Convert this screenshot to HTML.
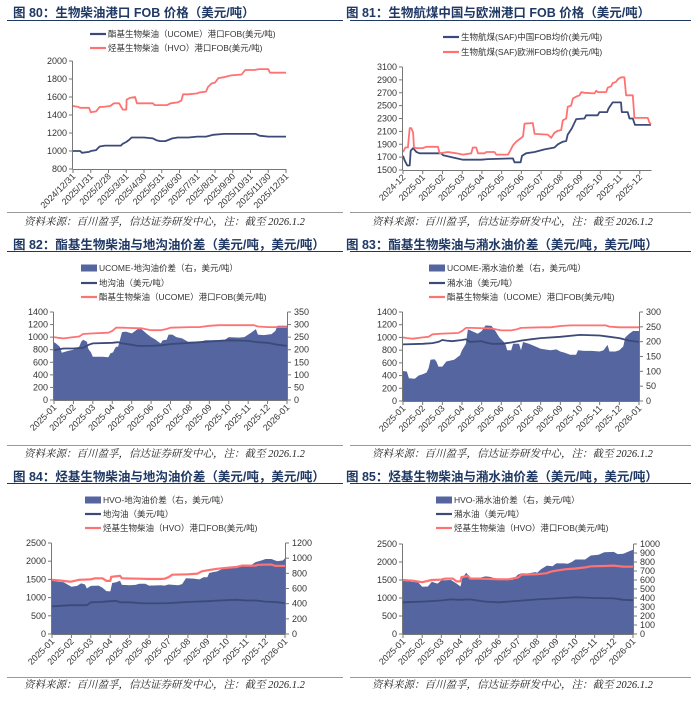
<!DOCTYPE html>
<html><head><meta charset="utf-8"><style>
html,body{margin:0;padding:0;background:#fff;}
svg{display:block;font-family:"Liberation Sans","Noto Sans CJK SC",sans-serif;}
.t{font-size:12.5px;font-weight:bold;fill:#1f3864;font-family:"Liberation Sans","Noto Sans CJK SC",sans-serif;}
.src{font-size:10.5px;font-style:italic;fill:#222;font-family:"Liberation Serif","Noto Serif CJK SC",serif;}
.tk{font-size:9px;fill:#333;}
.lg{font-size:8.5px;fill:#333;}
</style></head><body>
<svg id="pg" width="697" height="706" viewBox="0 0 697 706" xmlns="http://www.w3.org/2000/svg">
<g>
<text class="t" x="13" y="17">图 80：生物柴油港口 FOB 价格（美元/吨）</text>
<text class="t" x="346" y="17">图 81：生物航煤中国与欧洲港口 FOB 价格（美元/吨）</text>
<text class="t" x="13" y="249">图 82：酯基生物柴油与地沟油价差（美元/吨，美元/吨）</text>
<text class="t" x="346" y="249">图 83：酯基生物柴油与潲水油价差（美元/吨，美元/吨）</text>
<text class="t" x="13" y="481">图 84：烃基生物柴油与地沟油价差（美元/吨，美元/吨）</text>
<text class="t" x="346" y="481">图 85：烃基生物柴油与潲水油价差（美元/吨，美元/吨）</text>
</g>
<g stroke="#1f3864" stroke-width="1">
<line x1="7" y1="20.5" x2="343" y2="20.5"/><line x1="350" y1="20.5" x2="691" y2="20.5"/>
<line x1="7" y1="251.5" x2="343" y2="251.5"/><line x1="350" y1="251.5" x2="691" y2="251.5"/>
<line x1="7" y1="483.5" x2="343" y2="483.5"/><line x1="350" y1="483.5" x2="691" y2="483.5"/>
</g>
<g stroke="#999" stroke-width="1">
<line x1="7" y1="212.5" x2="343" y2="212.5"/><line x1="350" y1="212.5" x2="691" y2="212.5"/>
<line x1="7" y1="445.5" x2="343" y2="445.5"/><line x1="350" y1="445.5" x2="691" y2="445.5"/>
<line x1="7" y1="677.5" x2="343" y2="677.5"/><line x1="350" y1="677.5" x2="691" y2="677.5"/>
</g>
<g>
<text class="src" x="24" y="225">资料来源：百川盈孚，信达证券研发中心，注：截至 2026.1.2</text>
<text class="src" x="372" y="225">资料来源：百川盈孚，信达证券研发中心，注：截至 2026.1.2</text>
<text class="src" x="24" y="457">资料来源：百川盈孚，信达证券研发中心，注：截至 2026.1.2</text>
<text class="src" x="372" y="457">资料来源：百川盈孚，信达证券研发中心，注：截至 2026.1.2</text>
<text class="src" x="24" y="688">资料来源：百川盈孚，信达证券研发中心，注：截至 2026.1.2</text>
<text class="src" x="372" y="688">资料来源：百川盈孚，信达证券研发中心，注：截至 2026.1.2</text>
</g>
</svg>
<script>
// ---------- data ----------
const slashDates = ["2024/12/31","2025/1/31","2025/2/28","2025/3/31","2025/4/30","2025/5/31","2025/6/30","2025/7/31","2025/8/31","2025/9/30","2025/10/31","2025/11/30","2025/12/31"];
const months81 = ["2024-12","2025-01","2025-02","2025-03","2025-04","2025-05","2025-06","2025-07","2025-08","2025-09","2025-10","2025-11","2025-12"];
const months25 = ["2025-01","2025-02","2025-03","2025-04","2025-05","2025-06","2025-07","2025-08","2025-09","2025-10","2025-11","2025-12","2026-01"];

// fig 80
const f80UcomeX = [0,0.4,0.5,0.9,1.0,1.3,1.5,1.8,2.0,2.7,2.8,3.0,3.2,3.3,4.0,4.5,4.7,4.9,5.2,5.6,5.9,6.5,7,7.5,7.9,8.5,9,10.3,10.5,11,12];
const f80UcomeY = [1000,1000,980,990,1000,1010,1050,1060,1060,1060,1080,1100,1130,1150,1150,1140,1120,1110,1110,1140,1150,1150,1160,1160,1180,1190,1190,1190,1170,1160,1160];
const f80HvoX = [0,0.3,0.4,0.9,1.0,1.3,1.5,1.7,2.1,2.3,2.6,2.8,3.0,3.02,3.2,3.5,3.6,4.0,4.5,4.6,5.3,5.5,5.9,6.1,6.2,6.5,7.0,7.1,7.5,7.6,7.8,8.0,8.2,8.5,8.9,9.5,9.7,10.2,10.5,11,11.1,12];
const f80HvoY = [1500,1490,1480,1480,1430,1440,1490,1490,1500,1530,1530,1460,1460,1570,1590,1600,1530,1530,1530,1510,1510,1530,1540,1560,1630,1630,1640,1650,1660,1710,1750,1760,1810,1820,1840,1850,1900,1900,1910,1910,1870,1870];

// fig 81
const f81ChinaX = [0,0.08,0.22,0.34,0.39,0.51,0.68,0.84,1.94,2.03,2.45,3.04,3.97,4.30,5.57,5.65,5.96,6.03,6.24,6.67,7.17,7.68,7.85,8.10,8.27,8.35,8.56,8.78,9.20,9.28,9.87,9.96,10.35,10.41,10.63,11.05,11.09,11.39,11.48,11.65,11.76,12.57];
const f81ChinaY = [1720,1650,1570,1570,1800,1840,1780,1760,1760,1730,1700,1660,1660,1670,1680,1620,1620,1720,1760,1780,1820,1850,1900,1940,1950,2050,2150,2290,2300,2350,2350,2400,2400,2450,2550,2550,2400,2400,2300,2300,2200,2200];
const f81EuropeX = [0,0.12,0.25,0.34,0.42,0.51,0.56,0.68,1.01,1.18,1.77,1.86,2.28,2.70,3.04,3.46,3.54,3.71,3.80,4.14,4.22,4.64,4.73,5.32,5.40,5.57,5.74,5.91,6.08,6.16,6.58,6.67,7.34,7.51,7.68,7.85,8.02,8.10,8.27,8.35,8.52,8.61,8.78,8.95,9.03,9.20,9.70,9.79,9.87,10.30,10.38,10.55,10.63,10.80,10.89,11.05,11.22,11.31,11.65,11.73,12.41,12.49,12.57];
const f81EuropeY = [1780,1850,1850,2150,2150,2080,1850,1840,1840,1860,1860,1760,1780,1760,1740,1760,1850,1850,1760,1760,1780,1780,1740,1740,1780,1880,1940,1980,2020,2220,2230,2060,2050,2000,2080,2110,2120,2270,2300,2480,2500,2610,2640,2660,2710,2700,2690,2730,2710,2710,2780,2800,2850,2870,2910,2940,2940,2660,2660,2310,2310,2240,2210];

// fig 82
const f82SpreadX = [0,0.1,0.3,0.4,0.7,1.0,1.1,1.3,1.4,1.5,1.7,1.75,1.8,1.9,2.0,2.5,2.8,2.9,3.05,3.1,3.2,3.3,3.5,3.7,4.0,4.1,4.3,4.5,4.8,5.0,5.2,5.4,5.5,5.6,5.8,5.9,6.1,6.3,6.6,6.9,7.5,7.8,8.2,8.8,9.0,9.5,9.8,10.2,10.4,10.5,10.8,11.0,11.2,11.4,11.5,12];
const f82SpreadY = [230,225,212,188,195,200,205,212,232,240,232,208,200,190,172,172,170,185,190,200,212,212,270,272,265,270,282,282,262,250,242,230,225,238,240,260,260,250,245,232,232,238,238,240,250,248,250,270,282,260,258,260,262,275,295,295];
const f82DieselX = [0,0.3,0.5,1.0,1.5,1.8,2.0,3.0,3.3,3.5,4.0,4.3,5.0,5.5,6,7,7.5,8,9,10,10.5,11,11.5,12];
const f82DieselY = [790,810,820,820,830,880,900,910,920,900,880,860,860,870,890,910,920,930,950,940,920,910,880,860];
const f82UcomeX = [0,0.2,0.5,1.0,1.3,1.5,2.0,2.8,3.0,3.2,3.5,4.5,5,5.5,5.8,6.0,7.0,7.5,8,8.5,10.3,10.5,11,12];
const f82UcomeY = [1000,990,980,1000,1010,1050,1060,1070,1100,1150,1150,1140,1110,1110,1130,1150,1160,1160,1180,1190,1190,1170,1160,1160];

// fig 83
const f83SpreadX = [0,0.2,0.3,0.6,0.8,1.0,1.2,1.3,1.4,1.6,1.7,1.8,2.0,2.2,2.6,2.9,3.0,3.1,3.2,3.3,3.5,3.8,4.0,4.2,4.5,4.7,4.9,5.1,5.2,5.3,5.5,5.6,5.9,6.0,6.1,6.4,6.8,7.0,7.5,7.8,8.0,8.2,8.5,8.8,8.9,9.2,9.6,10.0,10.2,10.4,10.5,10.8,11.0,11.2,11.3,11.5,11.7,12];
const f83SpreadY = [101,99,77,75,86,90,96,111,139,141,133,116,116,133,139,154,171,182,193,242,236,227,236,255,253,236,214,201,193,171,171,193,193,171,199,193,182,176,171,174,167,163,156,156,171,169,169,167,171,189,167,167,171,184,214,227,236,236];
const f83SwillX = [0,1.0,1.5,1.8,2.0,2.2,2.5,3.0,3.2,3.4,4,4.2,4.5,5,5.5,6.0,6.5,7,8,9,10,10.5,11,11.5,12];
const f83SwillY = [890,900,910,930,960,950,940,960,970,930,940,920,900,900,920,950,970,990,1010,1040,1030,1010,990,950,930];
const f83UcomeX = [0,0.2,0.5,1.0,1.3,1.5,2.0,2.8,3.0,3.2,3.5,4.5,5,5.5,5.8,6.0,7.0,7.5,8,8.5,10.3,10.5,11,12];
const f83UcomeY = [1000,990,980,1000,1010,1050,1060,1070,1100,1150,1150,1140,1110,1110,1130,1150,1160,1160,1180,1190,1190,1170,1160,1160];

// fig 84
const f84SpreadX = [0,0.3,0.6,1.0,1.3,1.5,1.7,1.8,2.0,2.4,2.6,2.8,3.0,3.1,3.3,3.5,3.6,4.0,4.3,4.5,4.8,5.0,5.6,5.8,6.0,6.5,6.7,6.9,7.3,7.6,7.8,8.0,8.1,8.5,9.0,9.6,9.8,10.2,10.5,10.8,11.0,11.3,11.6,11.9,12];
const f84SpreadY = [701,691,682,624,634,667,653,600,634,638,610,566,562,672,682,701,648,643,648,662,662,638,643,638,653,643,658,734,730,720,749,749,806,826,883,888,902,902,950,970,989,989,960,970,998];
const f84DieselX = [0,1,1.8,2.0,2.5,3.0,3.3,3.5,4,4.5,5,6,7,8,9,9.5,10,10.5,11,11.5,12];
const f84DieselY = [760,790,790,870,880,900,910,870,870,850,840,850,880,900,930,940,920,920,890,880,850];
const f84HvoX = [0,0.4,0.9,1.0,1.4,2.0,2.2,2.6,2.8,3.0,3.05,3.5,3.6,4.5,5.0,5.6,5.8,6.0,6.2,7.0,7.5,7.7,8.0,8.5,9,9.5,9.8,10.5,10.6,11.3,11.5,12];
const f84HvoY = [1490,1470,1440,1440,1490,1500,1530,1530,1460,1460,1570,1600,1530,1520,1510,1510,1520,1560,1630,1640,1660,1720,1750,1790,1820,1840,1880,1880,1900,1910,1870,1870];

// fig 85
const f85SpreadX = [0,0.3,0.8,1.0,1.3,1.5,1.8,2.0,2.5,2.8,3.0,3.1,3.3,3.5,4.0,4.3,4.5,5.0,5.5,5.7,6.0,6.2,6.5,6.9,7.0,7.2,7.5,7.8,8.0,8.4,8.6,8.8,9.0,9.5,9.8,10.2,10.5,11.0,11.2,11.5,11.8,12];
const f85SpreadY = [592,584,572,524,528,580,560,596,600,560,528,624,680,624,624,640,636,608,604,600,660,676,672,688,680,720,760,752,784,784,780,800,828,828,872,880,908,912,888,892,920,936];
const f85SwillX = [0,1,2,2.5,3,3.5,4,4.3,5,6,7,8,9,10,11,11.5,12];
const f85SwillY = [880,900,930,960,950,960,920,900,880,920,960,990,1020,1000,990,950,940];
const f85HvoX = [0,0.5,1.0,1.5,2.0,2.2,2.6,2.8,3.0,3.05,3.4,3.5,4,5,5.5,6,6.2,7,7.5,7.7,8,8.5,9,9.5,9.8,10.5,11,11.5,12];
const f85HvoY = [1500,1480,1440,1500,1510,1540,1540,1460,1460,1580,1610,1540,1540,1520,1520,1570,1650,1660,1690,1730,1760,1800,1820,1850,1880,1890,1900,1870,1870];

// ---------- drawing ----------
const NS = "http://www.w3.org/2000/svg";
const pg = document.getElementById("pg");
const NAVY = "#3c4a78", AREA = "#5465a0", RED = "#ff7272";
function el(tag, attrs, parent){const e=document.createElementNS(NS,tag);for(const k in attrs)e.setAttribute(k,attrs[k]);(parent||pg).appendChild(e);return e;}

function drawChart(c){
  const g = el("g",{});
  
  
  const sx = v => c.L + (v - 0) / c.xMax * (c.R - c.L);
  const sy = v => c.B - (v - c.yMin) / (c.yMax - c.yMin) * (c.B - c.T);
  const sr = v => c.B - (v - c.rMin) / (c.rMax - c.rMin) * (c.B - c.T);
  c.series.forEach(s => {
    const f = s.axis === "r" ? sr : sy;
    let d = "";
    s.xs.forEach((x,i) => { d += (i ? "L" : "M") + sx(x).toFixed(1) + " " + f(s.ys[i]).toFixed(1); });
    if (s.type === "area") {
      d = "M" + sx(s.xs[0]).toFixed(1) + " " + f(c.rMin) + d.replace(/^M/,"L") + "L" + sx(s.xs[s.xs.length-1]).toFixed(1) + " " + f(c.rMin) + "Z";
      const p = el("path",{d:d,fill:AREA,stroke:"none"},g);
      
      
    } else {
      const p = el("path",{d:d,fill:"none",stroke:s.color,"stroke-width":s.w||1.8,"stroke-linejoin":"round"},g);
      
      
    }
  });
  const ax = el("g",{stroke:"#777","stroke-width":1},g);
  
  
  el("line",{x1:c.L-0.5,y1:c.T,x2:c.L-0.5,y2:c.B+0.5},ax);
  el("line",{x1:c.L-0.5,y1:c.B+0.5,x2:c.R+0.5,y2:c.B+0.5},ax);
  if (c.rMax !== undefined) el("line",{x1:c.R+0.5,y1:c.T,x2:c.R+0.5,y2:c.B+0.5},ax);
  for (let v = c.yMin; v <= c.yMax + 1e-6; v += c.yStep) {
    const y = sy(v);
    el("line",{x1:c.L-4,y1:y,x2:c.L-0.5,y2:y},ax);
    const t = el("text",{x:c.L-6,y:y+3,"text-anchor":"end",class:"tk"},g);
    t.textContent = v;
    
    
  }
  if (c.rMax !== undefined) {
    for (let v = c.rMin; v <= c.rMax + 1e-6; v += c.rStep) {
      const y = sr(v);
      el("line",{x1:c.R+0.5,y1:y,x2:c.R+4,y2:y},ax);
      const t = el("text",{x:c.R+7,y:y+3,"text-anchor":"start",class:"tk"},g);
      t.textContent = v;
      
      
    }
  }
  c.xLabels.forEach((lab,i) => {
    const x = sx(i);
    el("line",{x1:x,y1:c.B+0.5,x2:x,y2:c.B+4},ax);
    const t = el("text",{x:x+3,y:c.B+8,"text-anchor":"end",class:"tk",transform:`rotate(-45 ${x+3} ${c.B+8})`},g);
    t.textContent = lab;
    
    
  });
  c.legend.forEach((lg,i) => {
    const y = c.legY[i];
    const lgG = el("g",{},g);
    
    
    if (lg.type === "area") el("rect",{x:c.legX,y:y-3.5,width:16,height:7,fill:AREA},lgG);
    else el("line",{x1:c.legX,y1:y,x2:c.legX+16,y2:y,stroke:lg.color,"stroke-width":2.2},lgG);
    const t = el("text",{x:c.legX+18,y:y+3,class:"lg"},lgG);
    t.textContent = lg.text;
  });
}

drawChart({name:"chart-fig80",L:73,R:286,T:61,B:169,xMax:12,yMin:800,yMax:2000,yStep:200,xLabels:slashDates,
  legX:90,legY:[34,48],
  legend:[{type:"line",color:NAVY,text:"酯基生物柴油（UCOME）港口FOB(美元/吨)"},{type:"line",color:RED,text:"烃基生物柴油（HVO）港口FOB(美元/吨)"}],
  series:[{type:"line",axis:"l",xs:f80UcomeX,ys:f80UcomeY,color:NAVY,name:"ucome-fob-line"},
          {type:"line",axis:"l",xs:f80HvoX,ys:f80HvoY,color:RED,name:"hvo-fob-line"}]});

drawChart({name:"chart-fig81",L:403,R:651,T:67,B:170,xMax:12.57,yMin:1500,yMax:3100,yStep:200,xLabels:months81,
  legX:443,legY:[37,52],
  legend:[{type:"line",color:NAVY,text:"生物航煤(SAF)中国FOB均价(美元/吨)"},{type:"line",color:RED,text:"生物航煤(SAF)欧洲FOB均价(美元/吨)"}],
  series:[{type:"line",axis:"l",xs:f81ChinaX,ys:f81ChinaY,color:NAVY,name:"saf-china-line"},
          {type:"line",axis:"l",xs:f81EuropeX,ys:f81EuropeY,color:RED,name:"saf-europe-line"}]});

drawChart({name:"chart-fig82",L:54,R:287,T:312,B:400,xMax:12,yMin:0,yMax:1400,yStep:200,rMin:0,rMax:350,rStep:50,xLabels:months25,
  legX:81,legY:[268,283,297],
  legend:[{type:"area",text:"UCOME-地沟油价差（右，美元/吨）"},{type:"line",color:NAVY,text:"地沟油（美元/吨）"},{type:"line",color:RED,text:"酯基生物柴油（UCOME）港口FOB(美元/吨)"}],
  series:[{type:"area",axis:"r",xs:f82SpreadX,ys:f82SpreadY,name:"ucome-gutter-spread-area"},
          {type:"line",axis:"l",xs:f82DieselX,ys:f82DieselY,color:NAVY,name:"gutter-oil-line"},
          {type:"line",axis:"l",xs:f82UcomeX,ys:f82UcomeY,color:RED,name:"ucome-fob-line"}]});

drawChart({name:"chart-fig83",L:403,R:639,T:312,B:401,xMax:12,yMin:0,yMax:1400,yStep:200,rMin:0,rMax:300,rStep:50,xLabels:months25,
  legX:429,legY:[268,283,297],
  legend:[{type:"area",text:"UCOME-潲水油价差（右，美元/吨）"},{type:"line",color:NAVY,text:"潲水油（美元/吨）"},{type:"line",color:RED,text:"酯基生物柴油（UCOME）港口FOB(美元/吨)"}],
  series:[{type:"area",axis:"r",xs:f83SpreadX,ys:f83SpreadY,name:"ucome-swill-spread-area"},
          {type:"line",axis:"l",xs:f83SwillX,ys:f83SwillY,color:NAVY,name:"swill-oil-line"},
          {type:"line",axis:"l",xs:f83UcomeX,ys:f83UcomeY,color:RED,name:"ucome-fob-line"}]});

drawChart({name:"chart-fig84",L:52,R:285,T:543,B:634,xMax:12,yMin:0,yMax:2500,yStep:500,rMin:0,rMax:1200,rStep:200,xLabels:months25,
  legX:85,legY:[500,514,528],
  legend:[{type:"area",text:"HVO-地沟油价差（右，美元/吨）"},{type:"line",color:NAVY,text:"地沟油（美元/吨）"},{type:"line",color:RED,text:"烃基生物柴油（HVO）港口FOB(美元/吨)"}],
  series:[{type:"area",axis:"r",xs:f84SpreadX,ys:f84SpreadY,name:"hvo-gutter-spread-area"},
          {type:"line",axis:"l",xs:f84DieselX,ys:f84DieselY,color:NAVY,name:"gutter-oil-line"},
          {type:"line",axis:"l",xs:f84HvoX,ys:f84HvoY,color:RED,name:"hvo-fob-line",w:2.2}]});

drawChart({name:"chart-fig85",L:403,R:633,T:544,B:634,xMax:12,yMin:0,yMax:2500,yStep:500,rMin:0,rMax:1000,rStep:100,xLabels:months25,
  legX:436,legY:[500,514,528],
  legend:[{type:"area",text:"HVO-潲水油价差（右，美元/吨）"},{type:"line",color:NAVY,text:"潲水油（美元/吨）"},{type:"line",color:RED,text:"烃基生物柴油（HVO）港口FOB(美元/吨)"}],
  series:[{type:"area",axis:"r",xs:f85SpreadX,ys:f85SpreadY,name:"hvo-swill-spread-area"},
          {type:"line",axis:"l",xs:f85SwillX,ys:f85SwillY,color:NAVY,name:"swill-oil-line"},
          {type:"line",axis:"l",xs:f85HvoX,ys:f85HvoY,color:RED,name:"hvo-fob-line",w:2.2}]});
</script>
</body></html>
